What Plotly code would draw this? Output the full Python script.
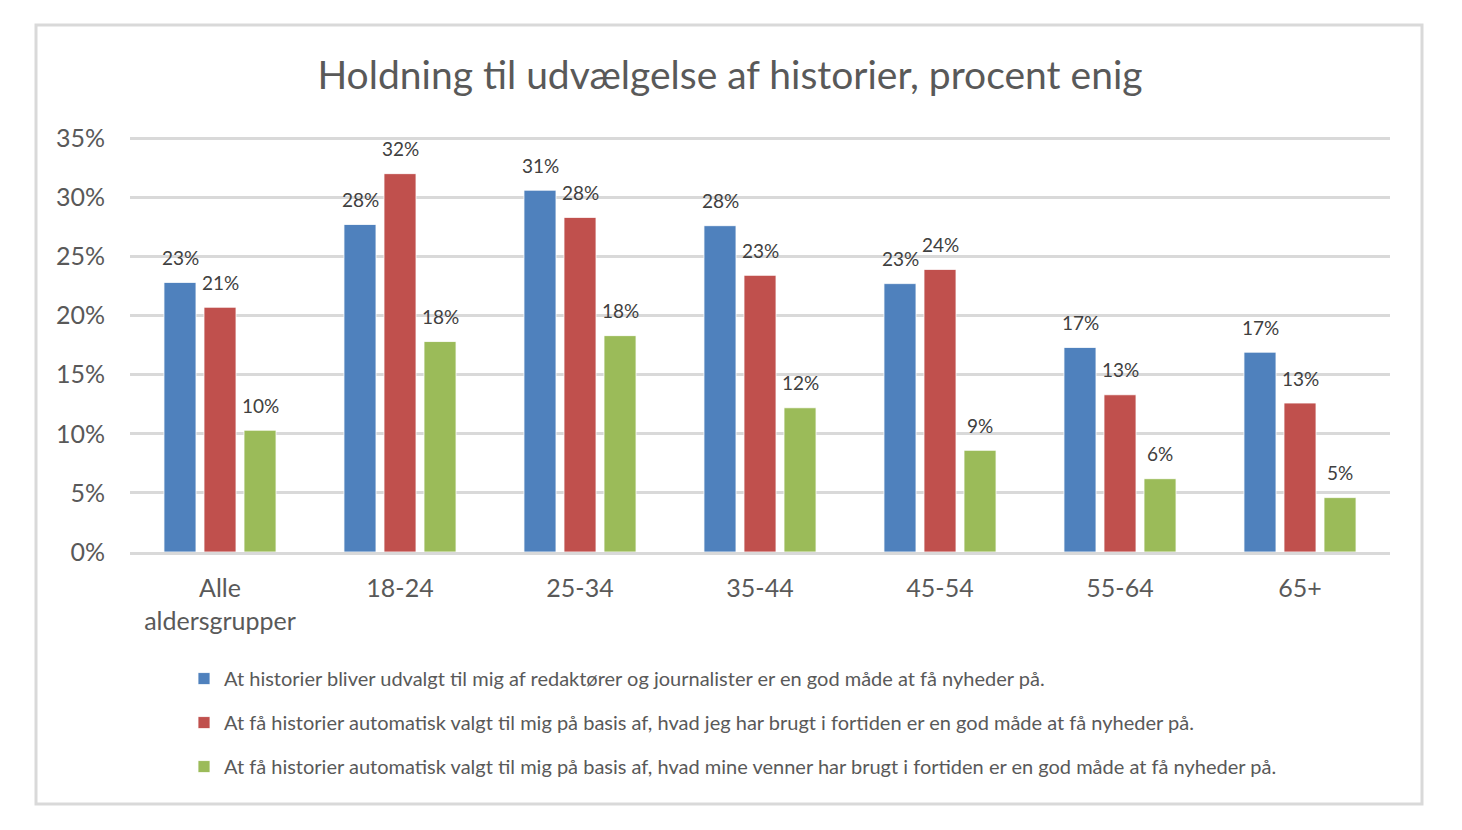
import plotly.graph_objects as go

categories = ["Alle<br>aldersgrupper", "18-24", "25-34", "35-44", "45-54", "55-64", "65+"]
series_names = [
    "At historier bliver udvalgt til mig af redaktører og journalister er en god måde at få nyheder på.",
    "At få historier automatisk valgt til mig på basis af, hvad jeg har brugt i fortiden er en god måde at få nyheder på.",
    "At få historier automatisk valgt til mig på basis af, hvad mine venner har brugt i fortiden er en god måde at få nyheder på.",
]
editors = [0.228, 0.277, 0.306, 0.276, 0.227, 0.173, 0.169]
own_usage = [0.207, 0.320, 0.283, 0.234, 0.239, 0.133, 0.126]
friends = [0.103, 0.178, 0.183, 0.122, 0.086, 0.062, 0.046]
colors = ["#4F81BD", "#C0504D", "#9BBB59"]

FONT = "Lato"
W, H = 1446, 814
L, R, T, B = 122, 64, 129, 270
PW, PH = W - L - R, H - T - B

fig = go.Figure()
annotations = []
offsets = [-40, 0, 40]
for i, (name, vals) in enumerate(zip(series_names, [editors, own_usage, friends])):
    fig.add_trace(go.Bar(
        x=categories, y=vals, name=name,
        marker=dict(color=colors[i], line=dict(color="white", width=0.8)),
        legendgroup=f"g{i}",
    ))
    for c, v in zip(categories, vals):
        annotations.append(dict(
            x=c, y=v, xref="x", yref="y", text=f"{round(v*100):d}%",
            showarrow=False, xshift=offsets[i], yshift=25,
            xanchor="center", yanchor="middle",
            font=dict(family=FONT, size=19, color="#404040"),
        ))

fig.update_layout(
    width=W, height=H,
    paper_bgcolor="white", plot_bgcolor="white",
    margin=dict(l=L, r=R, t=T, b=B),
    barmode="group", bargap=0.333, bargroupgap=0.2,
    title=dict(text="Holdning til udvælgelse af historier, procent enig",
               x=722 / W, xref="container", y=1 - 67 / H, yref="container",
               xanchor="center", yanchor="middle",
               font=dict(family=FONT, size=39, color="#595959")),
    font=dict(family=FONT, color="#595959"),
    showlegend=True,
    legend=dict(orientation="v", x=(176 - L) / PW, xanchor="left", y=-0.258, yanchor="top",
                font=dict(family=FONT, size=20, color="#595959"),
                tracegroupgap=15, itemwidth=30, traceorder="grouped"),
    annotations=annotations,
    shapes=[dict(type="rect", xref="paper", yref="paper",
                 x0=(28 - L) / PW, x1=(1414 - L) / PW,
                 y0=(PH + T - 796) / PH, y1=(PH + T - 17) / PH,
                 line=dict(color="#D9D9D9", width=3), fillcolor="rgba(0,0,0,0)",
                 layer="below")],
)
fig.update_yaxes(range=[0, 0.351], dtick=0.05, tickformat=".0%",
                 showgrid=True, gridcolor="#D9D9D9", gridwidth=3,
                 zeroline=False, showline=False,
                 tickfont=dict(family=FONT, size=25, color="#595959"),
                 ticklabelstandoff=24)
fig.update_xaxes(showline=True, linecolor="#D9D9D9", linewidth=3,
                 tickfont=dict(family=FONT, size=25, color="#595959"),
                 ticklabelstandoff=12, ticks="")

fig.write_html("out.html")
